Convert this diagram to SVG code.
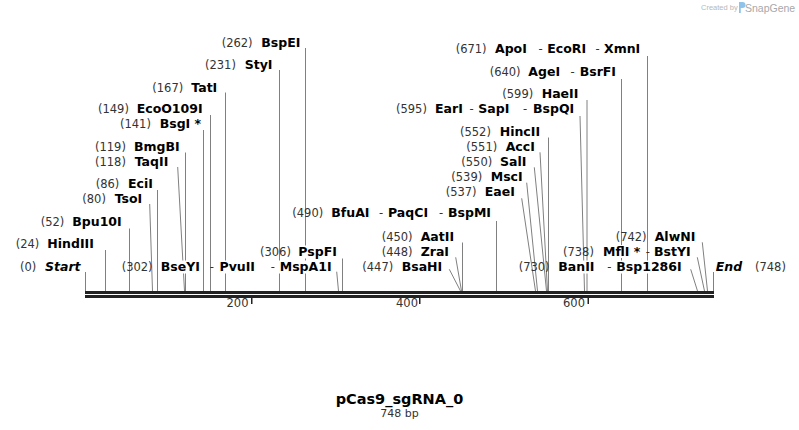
<svg xmlns="http://www.w3.org/2000/svg" width="799" height="430" viewBox="0 0 799 430">
<style>
.ln{stroke:#808080;stroke-width:1;fill:none}
.num{font-family:"DejaVu Sans",Verdana,sans-serif;font-size:11.5px;fill:#333}
.nm{font-family:"DejaVu Sans",Verdana,sans-serif;font-size:12.5px;font-weight:bold;fill:#000}
.it{font-style:italic}
.bg{fill:#fff}
.bar{fill:#222}
.tk{font-family:"DejaVu Sans",Verdana,sans-serif;font-size:11.5px;fill:#333;text-anchor:end}
</style>
<rect width="799" height="430" fill="#fff"/>
<g id="watermark">
<text x="701" y="10" font-family="Liberation Sans,Arial,sans-serif" font-size="7.5" fill="#b8b8b8">Created by</text>
<path d="M739 2h3.5a3 3 0 0 1 0 6h-1.7v5h-1.8z" fill="#8fc3ea"/>
<text x="745" y="11.5" font-family="Liberation Sans,Arial,sans-serif" font-size="10.5" fill="#a8a8a8">SnapGene</text>
</g>
<g id="connectors">
<path class="ln" d="M85.5 272V291"/>
<path class="ln" d="M105.5 250V291"/>
<path class="ln" d="M129.5 228.5V291"/>
<path class="ln" d="M149.7 204L152.5 291"/>
<path class="ln" d="M157.5 190V291"/>
<path class="ln" d="M177.7 167L184.5 291"/>
<path class="ln" d="M185.5 152.5V291"/>
<path class="ln" d="M203.5 130V291"/>
<path class="ln" d="M210.5 115V291"/>
<path class="ln" d="M225.5 92.5V291"/>
<path class="ln" d="M279.5 70V291"/>
<path class="ln" d="M305.5 48V291"/>
<path class="ln" d="M336.7 271.7L338.5 291"/>
<path class="ln" d="M342.5 258.5V291"/>
<path class="ln" d="M449.3 269.3L460.5 291"/>
<path class="ln" d="M455.7 257.3L461.5 291"/>
<path class="ln" d="M462.5 242.5V291"/>
<path class="ln" d="M496.5 221V291"/>
<path class="ln" d="M521.7 198.3L535.5 291"/>
<path class="ln" d="M526.7 182.7L537.5 291"/>
<path class="ln" d="M534.3 167.3L546.5 291"/>
<path class="ln" d="M540 152.3L547.5 291"/>
<path class="ln" d="M548.5 137.5V291"/>
<path class="ln" d="M580 116L584.5 291"/>
<path class="ln" d="M587 100V291"/>
<path class="ln" d="M621.5 79V291"/>
<path class="ln" d="M647.5 56V291"/>
<path class="ln" d="M690.7 269.3L697.5 291"/>
<path class="ln" d="M697.3 257.3L704.5 291"/>
<path class="ln" d="M702.3 242.3L707.5 291"/>
<path class="ln" d="M713.5 272V291"/>
</g>
<g id="sequence">
<rect class="bar" x="85" y="291" width="629" height="3"/>
<rect class="bar" x="85" y="295" width="629" height="3"/>
<rect class="bar" x="251" y="298" width="1.5" height="6"/>
<rect class="bar" x="419" y="298" width="1.5" height="6"/>
<rect class="bar" x="587.5" y="298" width="1.5" height="6"/>
<text class="tk" x="248.5" y="307">200</text>
<text class="tk" x="418" y="307">400</text>
<text class="tk" x="585" y="307">600</text>
</g>
<g id="n-BspEI"><rect class="bg" x="260.5" y="36" width="42" height="13"/><text class="num" x="221.7" y="46.5">(262)</text><text class="nm" x="261.3" y="46.5">BspEI</text></g>
<g id="n-StyI"><rect class="bg" x="244" y="58" width="30" height="13"/><text class="num" x="205" y="68.5">(231)</text><text class="nm" x="244.7" y="68.5">StyI</text></g>
<g id="n-TatI"><rect class="bg" x="190.5" y="81" width="30" height="13"/><text class="num" x="152.3" y="91.5">(167)</text><text class="nm" x="191.3" y="91.5">TatI</text></g>
<g id="n-EcoO109I"><rect class="bg" x="136" y="102" width="67" height="13"/><text class="num" x="98" y="112.5">(149)</text><text class="nm" x="136.7" y="112.5">EcoO109I</text></g>
<g id="n-BsgI"><rect class="bg" x="159" y="117.5" width="43" height="13"/><text class="num" x="120" y="128">(141)</text><text class="nm" x="159.7" y="128">BsgI *</text></g>
<g id="n-BmgBI"><rect class="bg" x="133.5" y="140" width="47" height="13"/><text class="num" x="95" y="150.5">(119)</text><text class="nm" x="134" y="150.5">BmgBI</text></g>
<g id="n-TaqII"><rect class="bg" x="134" y="155" width="40" height="13"/><text class="num" x="95" y="165.5">(118)</text><text class="nm" x="134.7" y="165.5">TaqII</text></g>
<g id="n-EciI"><rect class="bg" x="127.5" y="177.5" width="28" height="13"/><text class="num" x="95.7" y="188">(86)</text><text class="nm" x="128" y="188">EciI</text></g>
<g id="n-TsoI"><rect class="bg" x="114" y="192" width="33" height="13"/><text class="num" x="82.3" y="202.5">(80)</text><text class="nm" x="114.7" y="202.5">TsoI</text></g>
<g id="n-Bpu10I"><rect class="bg" x="71.5" y="215" width="52" height="13"/><text class="num" x="40.7" y="225.5">(52)</text><text class="nm" x="72.3" y="225.5">Bpu10I</text></g>
<g id="n-HindIII"><rect class="bg" x="46.5" y="237" width="53" height="13"/><text class="num" x="15.7" y="247.5">(24)</text><text class="nm" x="47.3" y="247.5">HindIII</text></g>
<g id="n-Start"><text class="num" x="20" y="271">(0)</text><text class="nm it" x="45" y="271">Start</text></g>
<g id="n-BseYI-PvuII-MspA1I"><rect class="bg" x="160" y="260.5" width="42" height="13"/><rect class="bg" x="218.5" y="260.5" width="40" height="13"/><rect class="bg" x="279" y="260.5" width="52" height="13"/><text class="num" x="121.7" y="271">(302)</text><text class="nm" x="160.7" y="271">BseYI</text><text class="num" x="209.7" y="271">-</text><text class="nm" x="219.5" y="271">PvuII</text><text class="num" x="270.7" y="271">-</text><text class="nm" x="279.7" y="271">MspA1I</text></g>
<g id="n-PspFI"><rect class="bg" x="297.5" y="245.5" width="41" height="13"/><text class="num" x="260" y="256">(306)</text><text class="nm" x="298.3" y="256">PspFI</text></g>
<g id="n-BsaHI"><rect class="bg" x="401" y="260.5" width="43" height="13"/><text class="num" x="362.3" y="271">(447)</text><text class="nm" x="401.7" y="271">BsaHI</text></g>
<g id="n-ZraI"><rect class="bg" x="420" y="245.5" width="31" height="13"/><text class="num" x="381.7" y="256">(448)</text><text class="nm" x="420.7" y="256">ZraI</text></g>
<g id="n-AatII"><rect class="bg" x="420" y="230.5" width="38" height="13"/><text class="num" x="381.7" y="241">(450)</text><text class="nm" x="420.7" y="241">AatII</text></g>
<g id="n-BfuAI-PaqCI-BspMI"><rect class="bg" x="330.5" y="206.5" width="42" height="13"/><rect class="bg" x="387.5" y="206.5" width="45" height="13"/><rect class="bg" x="447.5" y="206.5" width="45" height="13"/><text class="num" x="292.3" y="217">(490)</text><text class="nm" x="331.3" y="217">BfuAI</text><text class="num" x="379" y="217">-</text><text class="nm" x="388" y="217">PaqCI</text><text class="num" x="439" y="217">-</text><text class="nm" x="448" y="217">BspMI</text></g>
<g id="n-EaeI"><rect class="bg" x="484" y="185" width="33" height="13"/><text class="num" x="445.7" y="195.5">(537)</text><text class="nm" x="484.7" y="195.5">EaeI</text></g>
<g id="n-MscI"><rect class="bg" x="490" y="170" width="34" height="13"/><text class="num" x="451.3" y="180.5">(539)</text><text class="nm" x="490.7" y="180.5">MscI</text></g>
<g id="n-SalI"><rect class="bg" x="499.5" y="155" width="30" height="13"/><text class="num" x="461.3" y="165.5">(550)</text><text class="nm" x="500" y="165.5">SalI</text></g>
<g id="n-AccI"><rect class="bg" x="505" y="140" width="32" height="13"/><text class="num" x="466.3" y="150.5">(551)</text><text class="nm" x="505.7" y="150.5">AccI</text></g>
<g id="n-HincII"><rect class="bg" x="499" y="125" width="45" height="13"/><text class="num" x="460" y="135.5">(552)</text><text class="nm" x="499.7" y="135.5">HincII</text></g>
<g id="n-EarI-SapI-BspQI"><rect class="bg" x="434.5" y="102" width="32" height="13"/><rect class="bg" x="477.5" y="102" width="36" height="13"/><rect class="bg" x="532.5" y="102" width="44" height="13"/><text class="num" x="396" y="112.5">(595)</text><text class="nm" x="435" y="112.5">EarI</text><text class="num" x="469.5" y="112.5">-</text><text class="nm" x="478.3" y="112.5">SapI</text><text class="num" x="523" y="112.5">-</text><text class="nm" x="533" y="112.5">BspQI</text></g>
<g id="n-HaeII"><rect class="bg" x="541" y="87" width="41" height="13"/><text class="num" x="502.3" y="97.5">(599)</text><text class="nm" x="541.7" y="97.5">HaeII</text></g>
<g id="n-AgeI-BsrFI"><rect class="bg" x="527.5" y="65" width="37" height="13"/><rect class="bg" x="579" y="65" width="39" height="13"/><text class="num" x="489.7" y="75.5">(640)</text><text class="nm" x="528.3" y="75.5">AgeI</text><text class="num" x="570.5" y="75.5">-</text><text class="nm" x="579.7" y="75.5">BsrFI</text></g>
<g id="n-ApoI-EcoRI-XmnI"><rect class="bg" x="494.5" y="42" width="35" height="13"/><rect class="bg" x="546.5" y="42" width="43" height="13"/><rect class="bg" x="603.5" y="42" width="38" height="13"/><text class="num" x="455.7" y="52.5">(671)</text><text class="nm" x="495" y="52.5">ApoI</text><text class="num" x="538.5" y="52.5">-</text><text class="nm" x="547.3" y="52.5">EcoRI</text><text class="num" x="595.5" y="52.5">-</text><text class="nm" x="604" y="52.5">XmnI</text></g>
<g id="n-BanII-Bsp1286I"><rect class="bg" x="557.5" y="260.5" width="41" height="13"/><rect class="bg" x="615.5" y="260.5" width="68" height="13"/><text class="num" x="518.7" y="271">(730)</text><text class="nm" x="558.3" y="271">BanII</text><text class="num" x="607.3" y="271">-</text><text class="nm" x="616.3" y="271">Bsp1286I</text></g>
<g id="n-MflI-BstYI"><rect class="bg" x="602.5" y="245" width="41" height="13"/><rect class="bg" x="653.5" y="245" width="40" height="13"/><text class="num" x="563" y="255.5">(738)</text><text class="nm" x="603" y="255.5">MflI *</text><text class="num" x="645.7" y="255.5">-</text><text class="nm" x="654" y="255.5">BstYI</text></g>
<g id="n-AlwNI"><rect class="bg" x="654" y="230.5" width="44" height="13"/><text class="num" x="615.7" y="241">(742)</text><text class="nm" x="654.7" y="241">AlwNI</text></g>
<g id="n-End"><text class="nm it" x="715.7" y="271">End</text><text class="num" x="755" y="271">(748)</text></g>
<g id="title">
<text x="399.5" y="403.5" text-anchor="middle" font-family="DejaVu Sans,Verdana,sans-serif" font-size="14.5" font-weight="bold" fill="#000">pCas9_sgRNA_0</text>
<text x="399.5" y="416.5" text-anchor="middle" font-family="DejaVu Sans,Verdana,sans-serif" font-size="11" fill="#333">748 bp</text>
</g>
</svg>
